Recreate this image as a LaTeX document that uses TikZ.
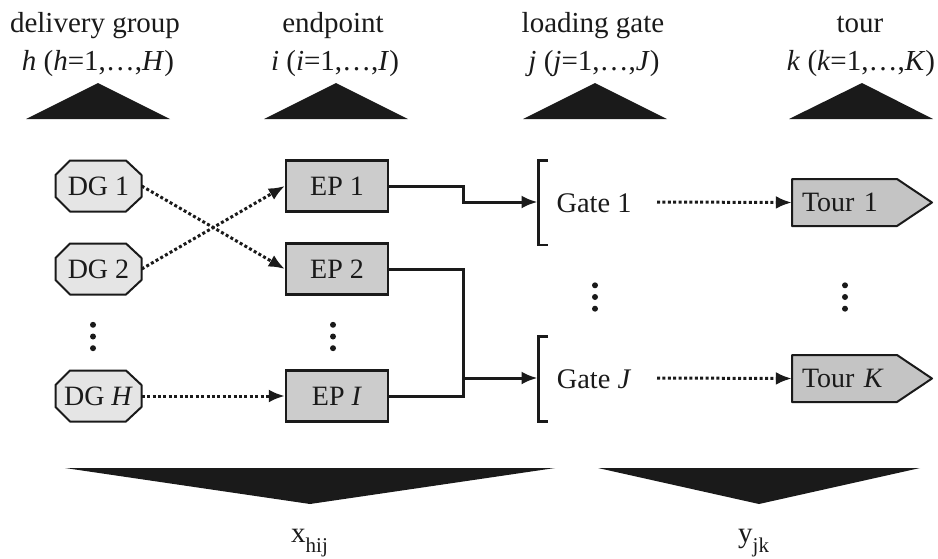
\documentclass[tikz,border=0pt]{standalone}
\usepackage{fontspec}
\setmainfont{Liberation Serif}
\usetikzlibrary{arrows.meta}
\definecolor{ink}{HTML}{1A1A1A}
\tikzset{
  every node/.style={text=ink},
  head/.style={anchor=base,inner sep=0pt,font=\fontsize{29}{30}\selectfont},
  lab/.style={font=\fontsize{28}{29}\selectfont,inner sep=0pt},
  gatelab/.style={font=\fontsize{28.4}{30}\selectfont,inner sep=0pt},
  dgbox/.style={lab,minimum width=86pt,minimum height=51pt},
  epbox/.style={lab,draw=ink,line width=2.4pt,fill=black!20,minimum width=102pt,minimum height=51pt},
  tourbox/.style={lab,minimum width=140pt,minimum height=47pt,text width=120pt,align=left,inner xsep=10pt},
  outline/.style={draw=ink,line width=2pt,line join=round},
  solidarrow/.style={draw=ink,line width=3pt,-{Latex[length=16pt,width=13pt]}},
  solidline/.style={draw=ink,line width=3pt},
  dotarrow/.style={draw=ink,line width=3pt,dash pattern=on 3pt off 2.4pt,-{Latex[length=16pt,width=13pt]}},
  brace/.style={draw=ink,line width=2.8pt},
  wedge/.style={fill=ink},
  vdot/.style={fill=ink},
}
\newcommand{\octa}[1]{% centre x=98, y=#1
  \draw[outline,fill=black!10] (70,#1-25.5) -- (126,#1-25.5) -- (141.5,#1-11) -- (141.5,#1+11) -- (126,#1+25.5) -- (70,#1+25.5) -- (55.5,#1+11) -- (55.5,#1-11) -- cycle;}
\newcommand{\tourshape}[1]{%
  \draw[outline,fill=black!23] (792,#1-23.5) -- (897,#1-23.5) -- (932,#1) -- (897,#1+23.5) -- (792,#1+23.5) -- cycle;}
\newcommand{\threedots}[2]{%
  \fill[vdot] (#1,#2-11.7) circle (3pt) (#1,#2) circle (3pt) (#1,#2+11.7) circle (3pt);}
\newcommand{\bracketat}[2]{%
  \draw[brace] (548,#1) -- (538.5,#1) -- (538.5,#2) -- (548,#2);}
\begin{document}
\begin{tikzpicture}[x=1pt,y=-1pt]
\useasboundingbox (0,0) rectangle (938,558);

% headers
\node[head] (h1a) at (95,32) {delivery group};
\node[head] (h1b) at (98,70) {\textit{h} (\textit{h}=1,…,\textit{H})};
\node[head] (h2a) at (333,32) {endpoint};
\node[head] (h2b) at (335,70) {\textit{i} (\textit{i}=1,…,\textit{I})};
\node[head] (h3a) at (593,32) {loading gate};
\node[head] (h3b) at (594,70) {\textit{j} (\textit{j}=1,…,\textit{J})};
\node[head] (h4a) at (860,32) {tour};
\node[head] (h4b) at (861,70) {\textit{k} (\textit{k}=1,…,\textit{K})};

% top wedges
\fill[wedge] (26,119) -- (98,83) -- (170,119) -- cycle;
\fill[wedge] (264,119) -- (336,83) -- (408,119) -- cycle;
\fill[wedge] (523,119) -- (595,83) -- (667,119) -- cycle;
\fill[wedge] (789,119) -- (862,83) -- (933,119) -- cycle;

% delivery groups
\octa{186}\octa{269}\octa{396}
\node[dgbox] (dg1) at (98.5,186) {DG 1};
\node[dgbox] (dg2) at (98.5,269) {DG 2};
\node[dgbox] (dgH) at (98.5,396) {DG \textit{H}};

% endpoints
\node[epbox] (ep1) at (337,186) {EP 1};
\node[epbox] (ep2) at (337,269) {EP 2};
\node[epbox] (epI) at (337,396) {EP \textit{I}};

% gates
\bracketat{160.5}{245}
\bracketat{336.5}{421.5}
\node[gatelab] (g1) at (594,203) {Gate 1};
\node[gatelab] (gJ) at (594,379) {Gate \textit{J}};
\coordinate (g1in) at (537.5,202);
\coordinate (gJin) at (537.5,378);
\coordinate (g1out) at (657,202);
\coordinate (gJout) at (657,378);

% tours
\tourshape{202.5}\tourshape{378.5}
\node[tourbox] (t1) at (862,202.5) {Tour 1};
\node[tourbox] (tK) at (862,378.5) {Tour \textit{K}};

% dots
\threedots{93}{336.5}
\threedots{333}{336.5}
\threedots{595}{297}
\threedots{845}{297}

% dotted connectors
\draw[dotarrow] (dg1.east) -- (ep2.west);
\draw[dotarrow] (dg2.east) -- (ep1.west);
\draw[dotarrow] (dgH.east) -- (epI.west);
\draw[dotarrow] (g1out) -- (t1.west);
\draw[dotarrow] (gJout) -- (tK.west);

% solid connectors
\coordinate (bend) at (463,194);
\coordinate (bus) at (463,330);
\draw[solidarrow] (ep1.east) -| (bend) |- (g1in);
\draw[solidline] (ep2.east) -| (bus) |- (epI.east);
\draw[solidarrow] (bus |- gJin) -- (gJin);

% bottom wedges
\fill[wedge] (65,468) -- (555,468) -- (310,504) -- cycle;
\fill[wedge] (598,468) -- (920,468) -- (759,504) -- cycle;

% variables
\node[head,anchor=base west] (xv) at (291,542) {x\raisebox{-3.6mm}{\fontsize{21}{22}\selectfont hij}};
\node[head,anchor=base west] (yv) at (738,542) {y\raisebox{-3.6mm}{\fontsize{21}{22}\selectfont jk}};
\end{tikzpicture}
\end{document}
